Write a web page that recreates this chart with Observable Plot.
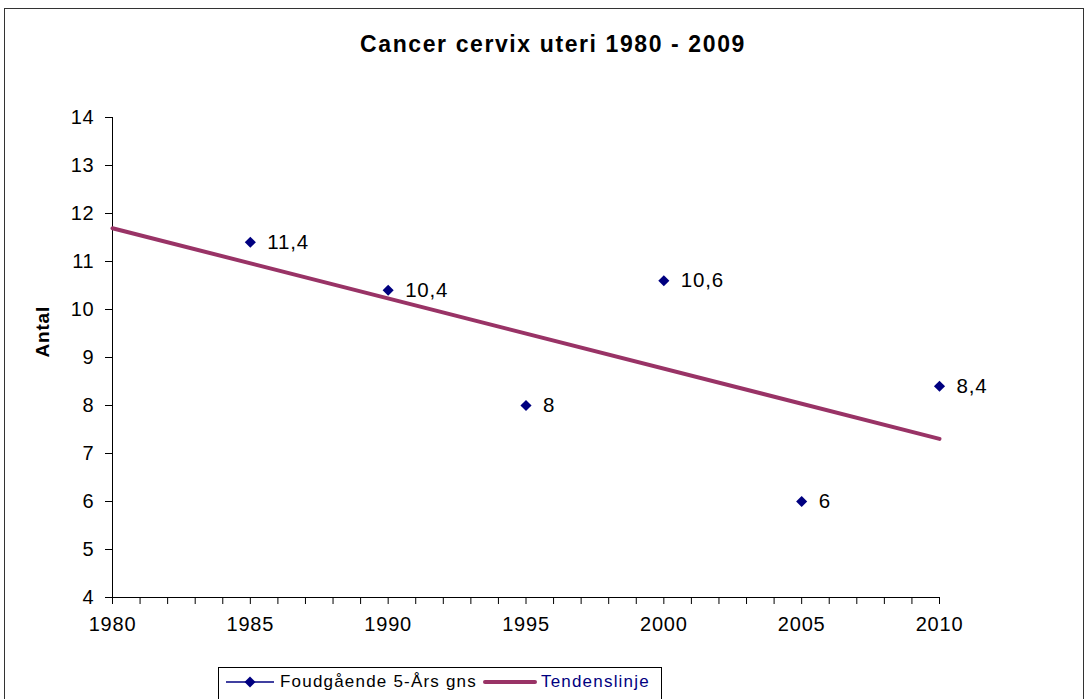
<!DOCTYPE html>
<html><head><meta charset="utf-8">
<script src="https://cdn.jsdelivr.net/npm/d3@7"></script>
<script src="https://cdn.jsdelivr.net/npm/@observablehq/plot@0.6"></script>
<style>
body{margin:0;background:#fff;font-family:"Liberation Sans",Arial,sans-serif;overflow:hidden}
#wrap{position:relative;width:1086px;height:699px;overflow:hidden}
#frame{position:absolute;left:4px;top:8px;width:1080px;height:740px;border:1.5px solid #333;box-sizing:border-box;pointer-events:none}
#title{height:90px;padding-top:31px;padding-left:20px;box-sizing:border-box;text-align:center;font-weight:bold;font-size:23px;letter-spacing:1.6px;line-height:26px;color:#000}
#chart svg{display:block}
#legend{position:absolute;left:218px;top:667px;width:444px;height:40px;border:1px solid #000;box-sizing:border-box;display:flex;align-items:flex-start;padding-top:3px;font-size:17px;letter-spacing:1.2px;white-space:nowrap}
#legend .it{display:flex;align-items:center;height:22px}
</style></head>
<body>
<div id="wrap">
  <div id="frame"></div>
  <div id="title">Cancer cervix uteri 1980 - 2009</div>
  <div id="chart"></div>
  <div id="legend"></div>
</div>
<script>
const years = [1985, 1990, 1995, 2000, 2005, 2010];
const values = [11.4, 10.4, 8, 10.6, 6, 8.4];
const labels = ["11,4", "10,4", "8", "10,6", "6", "8,4"];
const trendYears = [1980, 2010];
const yTicks = [4, 5, 6, 7, 8, 9, 10, 11, 12, 13, 14];
const xTicks = d3.range(1980, 2011);
const seriesNames = ["Foudgående 5-Års gns", "Tendenslinje"];

const data = years.map((y, i) => ({year: y, value: values[i], label: labels[i]}));
const mx = d3.mean(years), my = d3.mean(values);
const slope = d3.sum(years, (x, i) => (x - mx) * (values[i] - my)) / d3.sum(years, x => (x - mx) ** 2);
const trend = trendYears.map(x => ({year: x, value: my + slope * (x - mx)}));

const navy = "#000080", purple = "#993366";

const chart = Plot.plot({
  width: 1086, height: 565,
  marginLeft: 112, marginRight: 147, marginTop: 27, marginBottom: 58,
  style: {fontFamily: "Liberation Sans, Arial, sans-serif", fontSize: "20px", color: "#000", background: "transparent", letterSpacing: "0.8px"},
  x: {domain: [1980, 2010]},
  y: {domain: [4, 14]},
  marks: [
    Plot.axisY({ticks: yTicks, tickSize: 7, tickPadding: 11, label: null, fontSize: 20}),
    Plot.axisX({ticks: xTicks, tickSize: 7, tickPadding: 12, label: null, fontSize: 20,
      tickFormat: d => d % 5 === 0 ? String(d) : ""}),
    Plot.ruleX([1980], {stroke: "#000"}),
    Plot.ruleY([4], {stroke: "#000"}),
    Plot.line(trend, {x: "year", y: "value", stroke: purple, strokeWidth: 4}),
    Plot.dot(data, {x: "year", y: "value", symbol: "diamond2", fill: navy, stroke: "none", r: 5}),
    Plot.text(data, {x: "year", y: "value", text: "label", dx: 17, textAnchor: "start", fontSize: 20.5, fill: "#000"}),
    Plot.text(["Antal"], {frameAnchor: "left", dx: -70, rotate: -90, fontWeight: "bold", fontSize: 19, fill: "#000"})
  ]
});
document.getElementById("chart").appendChild(chart);

const leg = document.getElementById("legend");
leg.innerHTML = `
<div class="it" style="margin-left:6px">
  <svg width="50" height="14"><line x1="1" y1="7" x2="49" y2="7" stroke="${navy}" stroke-width="1.5"/>
  <path d="M25,1.5L30.5,7L25,12.5L19.5,7Z" fill="${navy}"/></svg>
  <span style="margin-left:5px;color:#000">${seriesNames[0]}</span>
</div>
<div class="it" style="margin-left:6px">
  <svg width="54" height="14"><line x1="2" y1="7" x2="52" y2="7" stroke="${purple}" stroke-width="4" stroke-linecap="round"/></svg>
  <span style="margin-left:4px;color:${navy}">${seriesNames[1]}</span>
</div>`;
</script>
</body></html>
